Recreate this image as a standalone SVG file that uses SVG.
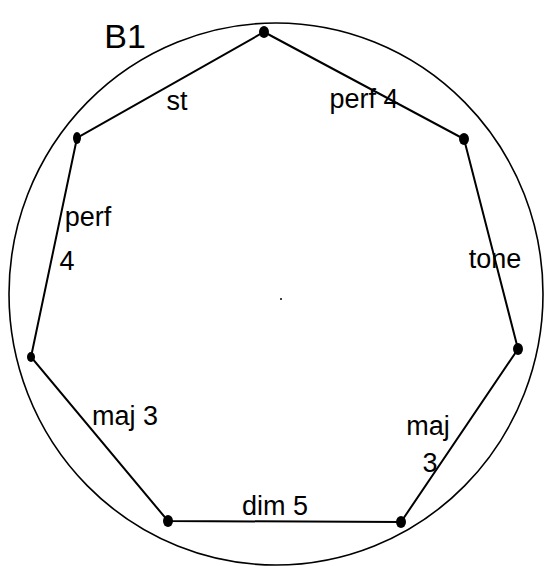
<svg xmlns="http://www.w3.org/2000/svg" width="552" height="566" viewBox="0 0 552 566">
<style>
.lbl{font-family:"Liberation Sans","DejaVu Sans",sans-serif;font-size:27px;fill:#000;text-anchor:middle}
.edge{stroke:#000;stroke-width:2;fill:none}
.v{fill:#000}
</style>
<rect width="552" height="566" fill="#fff"/>
<ellipse cx="276" cy="294" rx="267" ry="271" fill="none" stroke="#000" stroke-width="1.6"/>
<circle cx="281" cy="299" r="1" fill="#000"/>
<text class="lbl" x="125" y="48" style="font-size:34px">B1</text>
<g id="connectors">
<polygon class="edge" points="264,32 464,139 518,349 401,522 168,521 31,357 77,138"/>
</g>
<g id="n1"><ellipse class="v" cx="264" cy="32" rx="5" ry="6"/></g>
<g id="n2"><ellipse class="v" cx="464" cy="139" rx="5" ry="6"/></g>
<g id="n3"><ellipse class="v" cx="518" cy="349" rx="5" ry="6"/></g>
<g id="n4"><ellipse class="v" cx="401" cy="522" rx="5" ry="6"/></g>
<g id="n5"><ellipse class="v" cx="168" cy="521" rx="5" ry="6"/></g>
<g id="n6"><ellipse class="v" cx="31" cy="357" rx="4" ry="5"/></g>
<g id="n7"><ellipse class="v" cx="77" cy="138" rx="4" ry="6"/></g>
<g id="labels">
<text class="lbl" x="177" y="110">st</text>
<text class="lbl" x="364" y="108">perf 4</text>
<text class="lbl" x="88" y="226">perf</text>
<text class="lbl" x="67" y="270">4</text>
<text class="lbl" x="495" y="268">tone</text>
<text class="lbl" x="125" y="425">maj 3</text>
<text class="lbl" x="428" y="435">maj</text>
<text class="lbl" x="430" y="472">3</text>
<text class="lbl" x="275" y="515">dim 5</text>
</g>
</svg>
